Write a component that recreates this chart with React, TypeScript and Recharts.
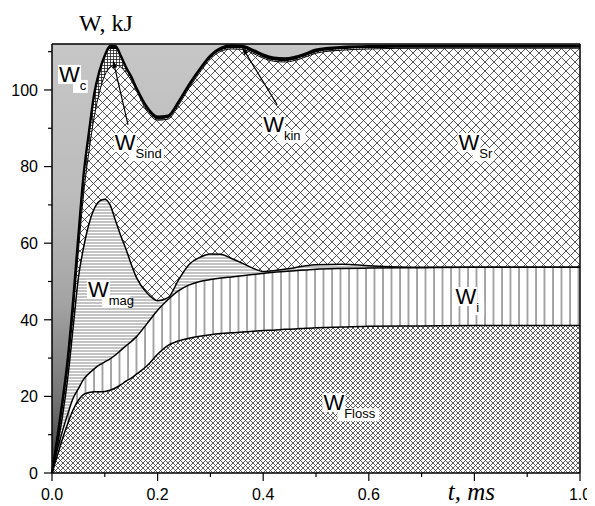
import React from "react";
import {
  ComposedChart,
  Area,
  Line,
  XAxis,
  YAxis,
  ReferenceLine,
  ReferenceDot,
} from "recharts";

// time, ms
const tValues = [
  0, 0.01, 0.02, 0.03, 0.04, 0.05, 0.06, 0.07, 0.08, 0.09, 0.1, 0.11, 0.12,
  0.13, 0.14, 0.15, 0.16, 0.18, 0.2, 0.22, 0.24, 0.26, 0.28, 0.3, 0.32, 0.34,
  0.36, 0.38, 0.4, 0.42, 0.44, 0.46, 0.48, 0.5, 0.55, 0.6, 0.7, 0.8, 0.9, 1.0,
];

// cumulative energy, kJ (upper edge of each band)
const floss = [
  0, 4.5, 9, 13, 16.5, 19, 20.5, 21, 21.2, 21.2, 21.3, 21.6, 22.2, 23, 24,
  24.8, 25.8, 28, 31, 33.3, 34.5, 35.2, 35.7, 36.1, 36.4, 36.6, 36.8, 37, 37.2,
  37.3, 37.5, 37.6, 37.8, 37.9, 38.1, 38.3, 38.4, 38.5, 38.5, 38.5,
];
const ion = [
  0, 6, 11, 15.5, 19.5, 22, 24.5, 26, 27.2, 28.2, 29, 29.8, 30.8, 32, 33.2,
  34.3, 35.6, 39, 42.5, 45.3, 47.6, 49.1, 50, 50.5, 50.9, 51.2, 51.5, 51.8,
  52.1, 52.4, 52.6, 52.8, 53, 53.2, 53.4, 53.5, 53.6, 53.7, 53.7, 53.7,
];
const mag = [
  0, 7, 15, 25, 38, 51, 59, 65, 69, 71, 71.5, 70, 66, 62, 58.5, 54.5, 51, 47,
  45, 45.8, 50.5, 54.5, 56.3, 57.2, 57.1, 56, 54.8, 53.5, 52.6, 52.8, 53.2,
  53.6, 54.1, 54.4, 54.5, 54.1, 53.7, 53.7, 53.7, 53.7,
];
const sr = [
  0, 8, 17.5, 28, 42, 58, 73, 84, 93, 99.5, 103.8, 106, 106.5, 106, 104.5,
  102.5, 99.8, 94.5, 92.1, 92.4, 96.1, 100.6, 104.6, 108.1, 110.1, 110.7,
  110.6, 109.6, 108.3, 107.5, 107.3, 107.7, 108.6, 109.6, 110.4, 110.7, 110.9,
  110.9, 110.9, 110.9,
];
const sind = [
  0, 8.6, 18.4, 29.3, 44.2, 61.2, 77.2, 88.2, 98.2, 104.2, 108.2, 110.7, 110.7,
  108.2, 105.2, 102.8, 100.1, 94.8, 92.3, 92.6, 96.3, 100.8, 104.8, 108.3,
  110.3, 110.9, 110.8, 109.8, 108.5, 107.7, 107.5, 107.9, 108.8, 109.8, 110.6,
  110.9, 111.0, 111.0, 111.0, 111.0,
];
const kin = [
  0, 9, 19, 30, 45, 62, 78, 89, 99, 105, 109, 111.5, 111.5, 109, 106, 103.5,
  100.5, 95.5, 93, 93.3, 97, 101.5, 105.5, 109, 111, 111.6, 111.5, 110.5,
  109.2, 108.4, 108.2, 108.6, 109.5, 110.5, 111.2, 111.4, 111.5, 111.5, 111.5,
  111.5,
];
const yTop = 112;

const xTicks = [0, 0.1, 0.2, 0.3, 0.4, 0.5, 0.6, 0.7, 0.8, 0.9, 1.0];
const yTicks = [0, 10, 20, 30, 40, 50, 60, 70, 80, 90, 100, 110];

const data = tValues.map((t, i) => ({
  t,
  floss: floss[i],
  ion: ion[i],
  mag: mag[i],
  sr: sr[i],
  sind: sind[i],
  kin: kin[i],
  bFloss: [0, floss[i]],
  bIon: [floss[i], ion[i]],
  bMag: [ion[i], mag[i]],
  bSr: [mag[i], sr[i]],
  bSind: [sr[i], sind[i]],
  bKin: [sind[i], kin[i]],
  bC: [kin[i], yTop],
}));

const sans = "'Liberation Sans', Arial, sans-serif";
const serif = "'Liberation Serif', 'Times New Roman', serif";

function XTick({ x, y, payload }: any) {
  const v = Math.round(payload.value * 10);
  const major = v % 2 === 0;
  return (
    <g>
      <line x1={x} x2={x} y1={y} y2={y + (major ? 8 : 4)} stroke="#000" strokeWidth={1.2} />
      {major && v !== 8 && (
        <text x={x} y={y + 27} textAnchor="middle" fontFamily={sans} fontSize={16} fill="#000">
          {(v / 10).toFixed(1)}
        </text>
      )}
      {v === 8 && (
        <text x={x - 3} y={y + 27} textAnchor="middle" fontFamily={serif} fontStyle="italic" fontSize={25} fill="#000">
          t, ms
        </text>
      )}
    </g>
  );
}

function YTick({ x, y, payload }: any) {
  const v = payload.value;
  const major = v % 20 === 0;
  return (
    <g>
      <line x1={x - (major ? 8 : 4)} x2={x} y1={y} y2={y} stroke="#000" strokeWidth={1.2} />
      {major && (
        <text x={x - 14} y={y} dy="0.36em" textAnchor="end" fontFamily={sans} fontSize={16} fill="#000">
          {v}
        </text>
      )}
    </g>
  );
}

function WLabel({ cx, cy, sub }: any) {
  const subW = sub.length * 6.8 + 8;
  return (
    <g>
      <rect x={cx - 1} y={cy - 17} width={23} height={19} fill="#fff" />
      <rect x={cx + 14} y={cy - 2} width={subW} height={13} fill="#fff" />
      <text x={cx} y={cy} fontFamily={sans} fontSize={22} fill="#000">
        W
        <tspan fontSize={13} dy={8}>
          {sub}
        </tspan>
      </text>
    </g>
  );
}

function Arrow({ x1, y1, x2, y2 }: any) {
  const a = Math.atan2(y2 - y1, x2 - x1);
  const L = 8;
  const w = 2.5;
  const bx = x2 - L * Math.cos(a);
  const by = y2 - L * Math.sin(a);
  const px = -Math.sin(a) * w;
  const py = Math.cos(a) * w;
  return (
    <g>
      <line x1={x1} y1={y1} x2={bx} y2={by} stroke="#000" strokeWidth={1.2} />
      <polygon points={`${x2},${y2} ${bx + px},${by + py} ${bx - px},${by - py}`} fill="#000" />
    </g>
  );
}

const labels = [
  { sub: "c", t: 0.0133, v: 102.1 },
  { sub: "Sind", t: 0.119, v: 84.3 },
  { sub: "kin", t: 0.4, v: 89 },
  { sub: "Sr", t: 0.77, v: 84.3 },
  { sub: "mag", t: 0.068, v: 46 },
  { sub: "i", t: 0.764, v: 44.1 },
  { sub: "Floss", t: 0.514, v: 16.4 },
];

export default function App() {
  return (
    <ComposedChart
      width={587}
      height={498}
      data={data}
      margin={{ top: 36, right: 15, bottom: 3, left: 0 }}
    >
      <defs>
        <linearGradient id="gradC" x1="0" y1="0" x2="0" y2="1">
          <stop offset="0" stopColor="#c6c6c6" />
          <stop offset="0.35" stopColor="#bcbcbc" />
          <stop offset="0.6" stopColor="#a4a4a4" />
          <stop offset="0.82" stopColor="#767676" />
          <stop offset="1" stopColor="#3a3a3a" />
        </linearGradient>
        <pattern id="patFloss" patternUnits="userSpaceOnUse" width={5} height={5}>
          <rect width={5} height={5} fill="#fff" />
          <path d="M0,0 L5,5 M5,0 L0,5" stroke="#333" strokeWidth={0.8} />
        </pattern>
        <pattern id="patSr" patternUnits="userSpaceOnUse" width={9} height={9}>
          <rect width={9} height={9} fill="#fff" />
          <path d="M0,0 L9,9 M9,0 L0,9" stroke="#444" strokeWidth={0.9} />
        </pattern>
        <pattern id="patIon" patternUnits="userSpaceOnUse" width={8.5} height={10}>
          <rect width={8.5} height={10} fill="#fff" />
          <line x1={1} x2={1} y1={0} y2={10} stroke="#777" strokeWidth={1.3} />
        </pattern>
        <pattern id="patMag" patternUnits="userSpaceOnUse" width={10} height={3}>
          <rect width={10} height={3} fill="#fff" />
          <line x1={0} x2={10} y1={1} y2={1} stroke="#888" strokeWidth={1} />
        </pattern>
        <pattern id="patSind" patternUnits="userSpaceOnUse" width={3} height={3}>
          <rect width={3} height={3} fill="#fff" />
          <path d="M0,0.5 L3,0.5 M0.5,0 L0.5,3" stroke="#222" strokeWidth={0.8} />
        </pattern>
      </defs>

      <XAxis
        dataKey="t"
        type="number"
        domain={[0, 1]}
        ticks={xTicks}
        interval={0}
        tickSize={0}
        tickMargin={0}
        tickLine={false}
        tick={<XTick />}
        axisLine={{ stroke: "#000", strokeWidth: 1.5 }}
        height={30}
      />
      <YAxis
        type="number"
        domain={[0, yTop]}
        ticks={yTicks}
        interval={0}
        tickSize={0}
        tickMargin={0}
        tickLine={false}
        tick={<YTick />}
        axisLine={{ stroke: "#000", strokeWidth: 1.5 }}
        width={44}
        label={{
          content: ({ viewBox }: any) => (
            <text
              x={viewBox.x + viewBox.width + 54}
              y={viewBox.y - 13}
              textAnchor="middle"
              fontFamily={serif}
              fontSize={24}
              fill="#000"
            >
              W, kJ
            </text>
          ),
        }}
      />

      <Area dataKey="bC" type="monotone" stroke="none" fill="url(#gradC)" fillOpacity={1} isAnimationActive={false} dot={false} activeDot={false} />
      <Area dataKey="bKin" type="monotone" stroke="none" fill="#000" fillOpacity={1} isAnimationActive={false} dot={false} activeDot={false} />
      <Area dataKey="bSind" type="monotone" stroke="none" fill="url(#patSind)" fillOpacity={1} isAnimationActive={false} dot={false} activeDot={false} />
      <Area dataKey="bSr" type="monotone" stroke="none" fill="url(#patSr)" fillOpacity={1} isAnimationActive={false} dot={false} activeDot={false} />
      <Area dataKey="bMag" type="monotone" stroke="none" fill="url(#patMag)" fillOpacity={1} isAnimationActive={false} dot={false} activeDot={false} />
      <Area dataKey="bIon" type="monotone" stroke="none" fill="url(#patIon)" fillOpacity={1} isAnimationActive={false} dot={false} activeDot={false} />
      <Area dataKey="bFloss" type="monotone" stroke="none" fill="url(#patFloss)" fillOpacity={1} isAnimationActive={false} dot={false} activeDot={false} />

      <Line dataKey="floss" type="monotone" stroke="#000" strokeWidth={1.5} dot={false} activeDot={false} isAnimationActive={false} />
      <Line dataKey="ion" type="monotone" stroke="#000" strokeWidth={1.5} dot={false} activeDot={false} isAnimationActive={false} />
      <Line dataKey="mag" type="monotone" stroke="#000" strokeWidth={1.5} dot={false} activeDot={false} isAnimationActive={false} />
      <Line dataKey="sr" type="monotone" stroke="#000" strokeWidth={1} dot={false} activeDot={false} isAnimationActive={false} />
      <Line dataKey="kin" type="monotone" stroke="#000" strokeWidth={2.4} dot={false} activeDot={false} isAnimationActive={false} />

      <ReferenceLine y={yTop} stroke="#000" strokeWidth={1.5} />
      <ReferenceLine x={1} stroke="#000" strokeWidth={1.5} />

      <ReferenceLine segment={[{ x: 0.144, y: 90.9 }, { x: 0.1156, y: 107.8 }]} shape={(p: any) => <Arrow {...p} />} />
      <ReferenceLine segment={[{ x: 0.4265, y: 96.1 }, { x: 0.36, y: 111.2 }]} shape={(p: any) => <Arrow {...p} />} />

      {labels.map((l) => (
        <ReferenceDot
          key={l.sub}
          x={l.t}
          y={l.v}
          r={0}
          shape={(p: any) => <WLabel cx={p.cx} cy={p.cy} sub={l.sub} />}
        />
      ))}
    </ComposedChart>
  );
}
